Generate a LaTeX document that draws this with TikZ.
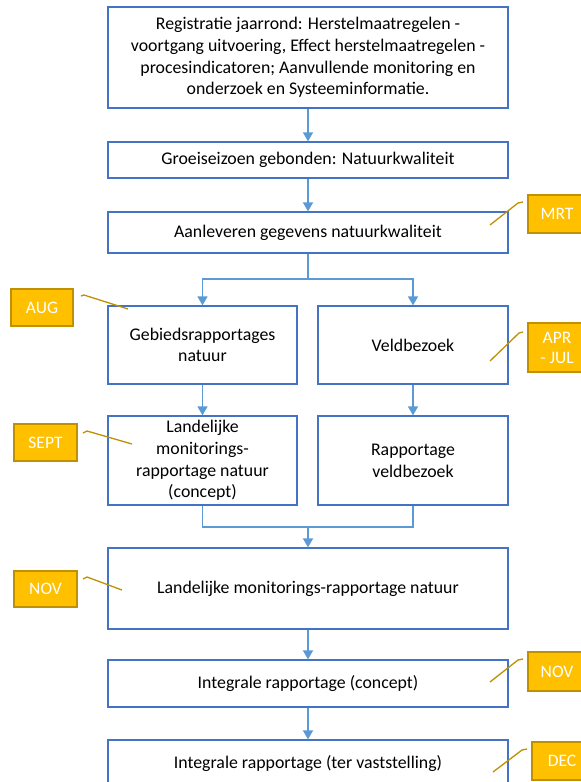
\documentclass[tikz,border=0pt]{standalone}
\usepackage{fontspec}
\setmainfont{Carlito}
\usetikzlibrary{arrows.meta}
\definecolor{boxblue}{HTML}{4472C4}
\definecolor{arrblue}{HTML}{5B9BD5}
\definecolor{goldfill}{HTML}{FFC000}
\definecolor{golddark}{HTML}{BF9000}
\begin{document}
\begin{tikzpicture}[x=1pt,y=-1pt,
  flowbox/.style={draw=boxblue,line width=1.3pt,fill=white,align=center,inner sep=0pt,font=\fontsize{17.8pt}{21.7pt}\selectfont},
  callout/.style={draw=golddark,line width=1.2pt,fill=goldfill,text=white,align=center,inner sep=0pt,font=\fontsize{17.5pt}{20pt}\selectfont},
  arr/.style={draw=arrblue,line width=1.5pt,-{Triangle[width=10pt,length=9pt]}},
  ln/.style={draw=arrblue,line width=1.5pt},
  leader/.style={draw=golddark,line width=1.3pt}]
\useasboundingbox (0,0) rectangle (581,782);
\clip (0,0) rectangle (581,782);
\fill[white] (0,0) rectangle (581,782);

% flow boxes
\node[flowbox,minimum width=400pt,minimum height=101pt] (top) at (308,57.5)
  {Registratie jaarrond: Herstelmaatregelen -\\voortgang uitvoering, Effect herstelmaatregelen -\\procesindicatoren; Aanvullende monitoring en\\onderzoek en Systeeminformatie.};
\node[flowbox,minimum width=400pt,minimum height=36pt] (b2) at (308,160) {Groeiseizoen gebonden: Natuurkwaliteit};
\node[flowbox,minimum width=400pt,minimum height=41pt] (b3) at (308,232.5) {Aanleveren gegevens natuurkwaliteit};
\node[flowbox,minimum width=189pt,minimum height=78pt] (L1) at (202.5,345) {Gebiedsrapportages\\natuur};
\node[flowbox,minimum width=190pt,minimum height=78pt] (R1) at (413,345) {Veldbezoek};
\node[flowbox,minimum width=189pt,minimum height=89pt] (L2) at (202.5,460.5) {Landelijke\\monitorings-\\rapportage natuur\\(concept)};
\node[flowbox,minimum width=190pt,minimum height=89pt] (R2) at (413,460.5) {Rapportage\\veldbezoek};
\node[flowbox,minimum width=400pt,minimum height=81pt] (big) at (308,588.5) {Landelijke monitorings-rapportage natuur};
\node[flowbox,minimum width=400pt,minimum height=47pt] (ic) at (308,683.5) {Integrale rapportage (concept)};
\node[flowbox,minimum width=400pt,minimum height=47pt] (last) at (308,763.5) {Integrale rapportage (ter vaststelling)};
\draw[boxblue,line width=1.3pt] (108,782) -- (108,740) -- (508,740) -- (508,782);

% connectors
\draw[arr] (top.south) -- (b2.north);
\draw[arr] (b2.south) -- (b3.north);
\coordinate (split) at (308,279);
\draw[ln] (b3.south) -- (split);
\draw[arr] (split) -| (L1.north);
\draw[arr] (split) -| (R1.north);
\draw[arr] (L1.south) -- (L2.north);
\draw[arr] (R1.south) -- (R2.north);
\coordinate (join) at (308,527);
\draw[ln] (L2.south) |- (join) -| (R2.south);
\draw[arr] (join) -- (big.north);
\draw[arr] (big.south) -- (ic.north);
\draw[arr] (ic.south) -- (last.north);

% callouts
\node[callout,minimum width=58pt,minimum height=38pt] (mrt) at (557,214) {MRT};
\node[callout,minimum width=58pt,minimum height=49pt] (apr) at (557,347.5) {APR\\- JUL};
\node[callout,minimum width=58pt,minimum height=39pt] (nov2) at (557,671.5) {NOV};
\node[callout,minimum width=60pt,minimum height=38pt] (dec) at (562,761) {DEC};
\node[callout,minimum width=62pt,minimum height=37pt] (aug) at (42,307.5) {AUG};
\node[callout,minimum width=63pt,minimum height=37pt] (sept) at (45.5,442.5) {SEPT};
\node[callout,minimum width=63pt,minimum height=36pt] (nov1) at (45.5,589) {NOV};

% leader lines
\coordinate (mrtA) at (523,202); \coordinate (mrtB) at (518,203); \coordinate (mrtC) at (490,225);
\draw[leader] (mrtA) -- (mrtB) -- (mrtC);
\coordinate (aprA) at (523,332); \coordinate (aprB) at (519,333); \coordinate (aprC) at (490,361);
\draw[leader] (aprA) -- (aprB) -- (aprC);
\coordinate (nov2A) at (523,659); \coordinate (nov2B) at (518,660); \coordinate (nov2C) at (490,682);
\draw[leader] (nov2A) -- (nov2B) -- (nov2C);
\coordinate (decA) at (527,749); \coordinate (decB) at (522,750); \coordinate (decC) at (493,772);
\draw[leader] (decA) -- (decB) -- (decC);
\coordinate (augA) at (81,296); \coordinate (augB) at (84,295); \coordinate (augC) at (128,309);
\draw[leader] (augA) -- (augB) -- (augC);
\coordinate (septA) at (83,433); \coordinate (septB) at (87,431); \coordinate (septC) at (132,444);
\draw[leader] (septA) -- (septB) -- (septC);
\coordinate (nov1A) at (83,579); \coordinate (nov1B) at (87,577); \coordinate (nov1C) at (122,590);
\draw[leader] (nov1A) -- (nov1B) -- (nov1C);
\end{tikzpicture}
\end{document}
